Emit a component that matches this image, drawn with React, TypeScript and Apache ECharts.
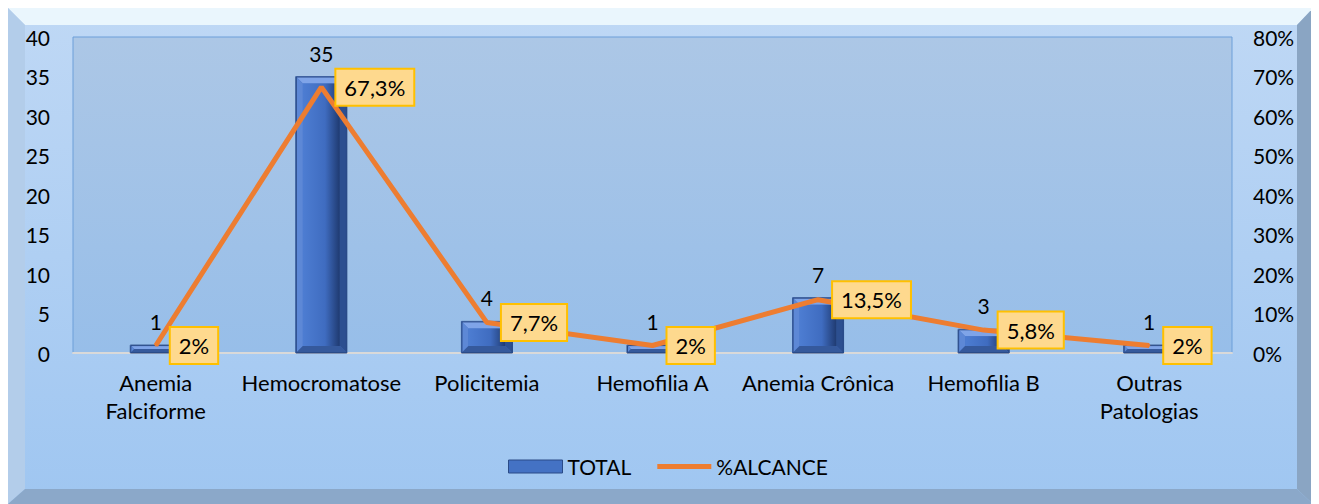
import React, { useEffect, useRef } from "react";
import * as echarts from "echarts";

const categories = ["Anemia\nFalciforme", "Hemocromatose", "Policitemia", "Hemofilia A", "Anemia Crônica", "Hemofilia B", "Outras\nPatologias"];
const totals = [1, 35, 4, 1, 7, 3, 1];
const alcance = [1.9, 67.3, 7.7, 1.9, 13.5, 5.8, 1.9];
const alcanceLabels = ["2%", "67,3%", "7,7%", "2%", "13,5%", "5,8%", "2%"];
const leftTicks = [0, 40, 5];
const rightTicks = [0, 80, 10];

const W = 1305;
const H = 496;
const FONT = "Lato";
const FS = 21;

export default function App() {
  const ref = useRef<HTMLDivElement>(null);
  useEffect(() => {
    if (!ref.current) return;
    const chart = echarts.init(ref.current, undefined, { renderer: "svg" });

    const renderBar = (params: any, api: any) => {
      const idx = api.value(0);
      const val = api.value(1);
      const topPt = api.coord([idx, val]);
      const basePt = api.coord([idx, 0]);
      const w = 51;
      const l = topPt[0] - w / 2;
      const r = topPt[0] + w / 2;
      const t = topPt[1];
      const bt = basePt[1];
      const h = bt - t;
      const b = Math.min(7, h / 2);
      const inner = new echarts.graphic.LinearGradient(0, 0, 1, 0, [
        { offset: 0, color: "#4d7dd2" },
        { offset: 0.6, color: "#3f6cc0" },
        { offset: 1, color: "#1f3a70" },
      ]);
      return {
        type: "group",
        children: [
          { type: "rect", shape: { x: l, y: t, width: w, height: h }, style: { fill: "#4472c4", stroke: "#2a4b87", lineWidth: 1 } },
          { type: "polygon", shape: { points: [[l, t], [r, t], [r - b, t + b], [l + b, t + b]] }, style: { fill: "#7fa4e8" } },
          { type: "polygon", shape: { points: [[l, t], [l + b, t + b], [l + b, bt - b], [l, bt]] }, style: { fill: "#5d88d6" } },
          { type: "polygon", shape: { points: [[r, t], [r, bt], [r - b, bt - b], [r - b, t + b]] }, style: { fill: "#2c4f90" } },
          { type: "polygon", shape: { points: [[l, bt], [l + b, bt - b], [r - b, bt - b], [r, bt]] }, style: { fill: "#35599c" } },
          { type: "rect", shape: { x: l + b, y: t + b, width: w - 2 * b, height: Math.max(0, h - 2 * b) }, style: { fill: inner } },
          { type: "rect", shape: { x: l + 0.5, y: t + 0.5, width: w - 1, height: h - 1 }, style: { fill: "none", stroke: "#2a4b87", lineWidth: 1 } },
          { type: "text", x: topPt[0], y: t - 13, style: { text: String(val), fill: "#000", font: `${FS}px ${FONT}`, align: "center", verticalAlign: "bottom" } },
        ],
      };
    };

    chart.setOption({
      animation: false,
      backgroundColor: "transparent",
      textStyle: { fontFamily: FONT },
      graphic: [
        { type: "rect", shape: { x: 0, y: 0, width: W, height: H }, style: { fill: new echarts.graphic.LinearGradient(0, 0, 0, 1, [{ offset: 0, color: "#bfd8f5" }, { offset: 1, color: "#9fc6f1" }]) }, z: -10 },
        { type: "polygon", shape: { points: [[0, 0], [W, 0], [W - 16, 17], [17, 17]] }, style: { fill: "#eaf6fd" }, z: -9 },
        { type: "polygon", shape: { points: [[0, 0], [17, 17], [17, H - 15], [0, H]] }, style: { fill: "#b3cdea" }, z: -9 },
        { type: "polygon", shape: { points: [[W, 0], [W, H], [W - 16, H - 15], [W - 16, 17]] }, style: { fill: "#8aa5c3" }, z: -9 },
        { type: "polygon", shape: { points: [[0, H], [17, H - 15], [W - 16, H - 15], [W, H]] }, style: { fill: "#8ba8c9" }, z: -9 },
      ],
      grid: {
        left: 65, top: 29, right: 81, bottom: 151,
        show: true,
        borderColor: "#6c9fd9",
        borderWidth: 1,
        backgroundColor: new echarts.graphic.LinearGradient(0, 0, 0, 1, [{ offset: 0, color: "#acc7e6" }, { offset: 1, color: "#97bee9" }]),
      },
      legend: {
        bottom: 22,
        left: 495,
        itemGap: 26,
        itemWidth: 54,
        itemHeight: 13,
        textStyle: { fontSize: FS, color: "#000", fontFamily: FONT, padding: [0, 0, 0, 0] },
        data: [
          { name: "TOTAL", icon: "rect", itemStyle: { color: "#4472c4", borderColor: "#2a4b87", borderWidth: 1 } },
          { name: "%ALCANCE", icon: "path://M0,0 L54,0 L54,5 L0,5 Z", itemStyle: { color: "#ed7d31", borderWidth: 0 } },
        ],
      },
      xAxis: {
        type: "category",
        data: categories,
        axisLine: { show: true, lineStyle: { color: "#d9d9d9", width: 2 } },
        axisTick: { show: false },
        axisLabel: { fontSize: 22, color: "#000", fontFamily: FONT, margin: 15, lineHeight: 28, interval: 0 },
      },
      yAxis: [
        {
          type: "value", min: leftTicks[0], max: leftTicks[1], interval: leftTicks[2],
          splitLine: { show: false }, axisLine: { show: false }, axisTick: { show: false },
          axisLabel: { fontSize: FS, color: "#000", fontFamily: FONT, margin: 23 },
        },
        {
          type: "value", min: rightTicks[0], max: rightTicks[1], interval: rightTicks[2],
          splitLine: { show: false }, axisLine: { show: false }, axisTick: { show: false },
          axisLabel: { fontSize: FS, color: "#000", fontFamily: FONT, margin: 21, formatter: "{value}%" },
        },
      ],
      series: [
        {
          name: "TOTAL",
          type: "custom",
          renderItem: renderBar,
          encode: { x: 0, y: 1 },
          data: totals.map((v, i) => [i, v]),
          itemStyle: { color: "#4472c4" },
          z: 2,
        },
        {
          name: "%ALCANCE",
          type: "line",
          yAxisIndex: 1,
          data: alcance,
          symbol: "none",
          showSymbol: false,
          itemStyle: { color: "#ed7d31" },
          lineStyle: { color: "#ed7d31", width: 5 },
          z: 5,
        },
        {
          name: "alcance-labels",
          type: "scatter",
          yAxisIndex: 1,
          data: alcance,
          symbolSize: 2,
          itemStyle: { color: "#ed7d31", opacity: 1 },
          z: 6,
          silent: true,
          label: {
            show: true,
            position: "right",
            distance: 14,
            fontSize: FS + 1,
            color: "#000",
            opacity: 1,
            fontFamily: FONT,
            backgroundColor: "#fed98e",
            borderColor: "#ffc000",
            borderWidth: 2,
            padding: [7, 8, 6, 8],
            formatter: (p: any) => alcanceLabels[p.dataIndex],
          },
        },
      ],
    });
    return () => chart.dispose();
  }, []);
  return <div ref={ref} style={{ width: W, height: H }} />;
}
